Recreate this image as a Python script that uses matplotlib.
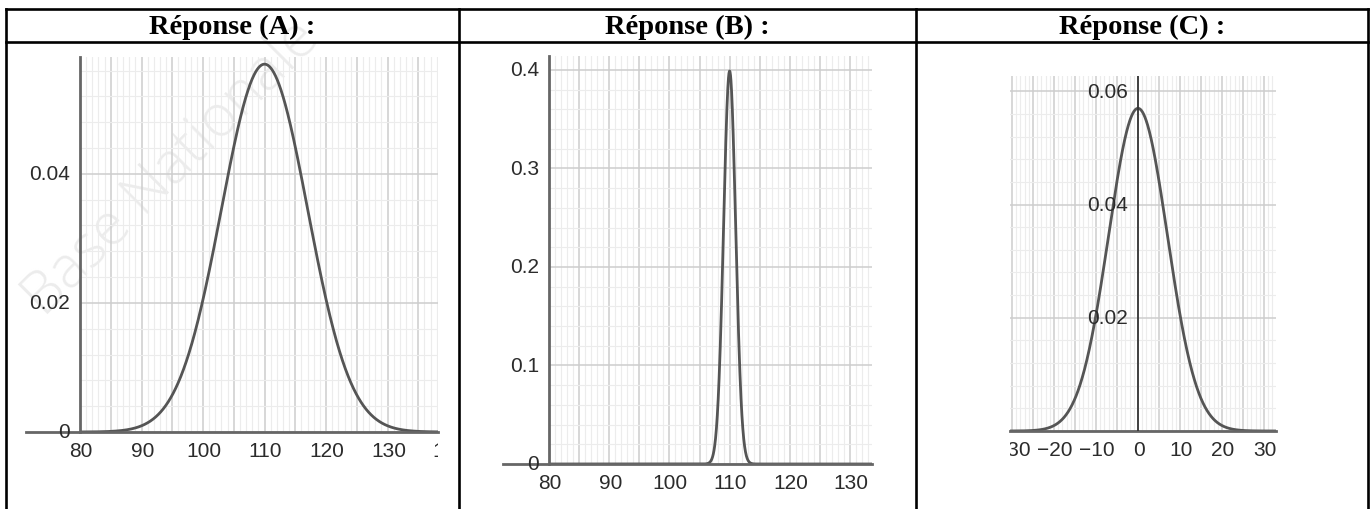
import numpy as np
import matplotlib
matplotlib.use('Agg')
import matplotlib.pyplot as plt
from matplotlib.ticker import MultipleLocator
from matplotlib.transforms import Bbox, TransformedBbox, offset_copy

W, H = 1372, 510

# --- data ---
titles = ['Réponse (A) :', 'Réponse (B) :', 'Réponse (C) :']
means = [110, 110, 0]
sigmas = [7, 1, 7]
x_limits = [(80, 138.2), (80, 133.65), (-30.48, 32.86)]
y_tops = [0.0581, 0.4142, 0.0627]
x_ticks = [[80, 90, 100, 110, 120, 130, 140],
           [80, 90, 100, 110, 120, 130],
           [-30, -20, -10, 0, 10, 20, 30]]
y_ticks = [[0, 0.02, 0.04],
           [0, 0.1, 0.2, 0.3, 0.4],
           [0.02, 0.04, 0.06]]
y_labels = [['0', '0.02', '0.04'],
            ['0', '0.1', '0.2', '0.3', '0.4'],
            ['0.02', '0.04', '0.06']]
x_steps = [(5, 1), (5, 1), (5, 1)]
y_steps = [(0.02, 0.004), (0.1, 0.02), (0.02, 0.004)]
y_axis_at = [80, 80, 0]

# layout in pixels (left, top, right, bottom) of each grid area
boxes = [(80, 58, 438, 433), (549, 57, 872, 465), (1010, 77, 1276, 432)]
axis_ext = [-0.151, -0.142, 0.0]     # how far the x axis line runs left of the grid
label_clip_left = [20, 495, 1010]     # x tick labels are cut at the picture's edges
col_edges = [6, 459, 916, 1368]

fig = plt.figure(figsize=(W / 100, H / 100), dpi=100)

# background layer: table lines, headers, watermark
bg = fig.add_axes([0, 0, 1, 1])
bg.set_xlim(0, W)
bg.set_ylim(H, 0)
bg.axis('off')
bg.text(44, 318, 'Base Nationale', rotation=45, rotation_mode='anchor', ha='left',
        va='baseline', fontsize=42, color='#ececec', family='Open Sans',
        fontweight='light', zorder=0)
tw = 1.9
bg.plot([col_edges[0], col_edges[-1]], [10, 10], color='black', lw=tw, solid_capstyle='projecting')
bg.plot([col_edges[0], col_edges[-1]], [43, 43], color='black', lw=tw)
for cx in col_edges:
    bg.plot([cx, cx], [10, H + 5], color='black', lw=tw, solid_capstyle='projecting')
for i, t in enumerate(titles):
    bg.text((col_edges[i] + col_edges[i + 1]) / 2, 27, t, ha='center', va='center',
            fontsize=20.5, fontweight='bold', family='Liberation Serif')

for i in range(3):
    l, t, r, b = boxes[i]
    ax = fig.add_axes([l / W, 1 - b / H, (r - l) / W, (b - t) / H])
    ax.set_facecolor('none')
    ax.set_xlim(*x_limits[i])
    ax.set_ylim(0, y_tops[i])
    ax.xaxis.set_major_locator(MultipleLocator(x_steps[i][0]))
    ax.xaxis.set_minor_locator(MultipleLocator(x_steps[i][1]))
    ax.yaxis.set_major_locator(MultipleLocator(y_steps[i][0]))
    ax.yaxis.set_minor_locator(MultipleLocator(y_steps[i][1]))
    ax.grid(which='major', color='#cdcdcd', lw=1.1)
    ax.grid(which='minor', color='#ececec', lw=0.8)
    ax.set_axisbelow(True)
    ax.tick_params(which='both', length=0, labelbottom=False, labelleft=False)
    for sp in ax.spines.values():
        sp.set_visible(False)

    xs = np.linspace(x_limits[i][0] - 1, x_limits[i][1] + 1, 1500)
    ys = np.exp(-0.5 * ((xs - means[i]) / sigmas[i]) ** 2) / (sigmas[i] * np.sqrt(2 * np.pi))
    ax.plot(xs, ys, color='#555555', lw=2.0, zorder=3)

    # axes lines
    ax.plot([axis_ext[i], 1], [0, 0], transform=ax.get_yaxis_transform(),
            clip_on=False, color='#666666', lw=2.0, zorder=4)
    if i < 2:
        ax.axvline(y_axis_at[i], color='#666666', lw=2.0, clip_on=False, zorder=4)
    else:
        ax.axvline(y_axis_at[i], color='#333333', lw=1.3, zorder=4)

    # tick labels
    clip = TransformedBbox(Bbox([[label_clip_left[i] / W, 0], [r / W, 1]]), fig.transFigure)
    xoff = offset_copy(ax.transData, fig=fig, x=1, y=-19, units='dots')
    for xv in x_ticks[i]:
        lab = str(xv).replace('-', '\u2212')
        txt = ax.text(xv, 0, lab, transform=xoff, ha='center', va='center',
                      fontsize=15, color='#2b2b2b', family='Liberation Sans')
        txt.set_clip_box(clip)
        txt.set_clip_on(True)
    yoff = offset_copy(ax.transData, fig=fig, x=-10, y=0, units='dots')
    for yv, lab in zip(y_ticks[i], y_labels[i]):
        ax.text(y_axis_at[i], yv, lab, transform=yoff, ha='right', va='center',
                fontsize=15, color='#2b2b2b', family='Liberation Sans',
                clip_on=False, zorder=5)

fig.savefig('out.png', dpi=100)
